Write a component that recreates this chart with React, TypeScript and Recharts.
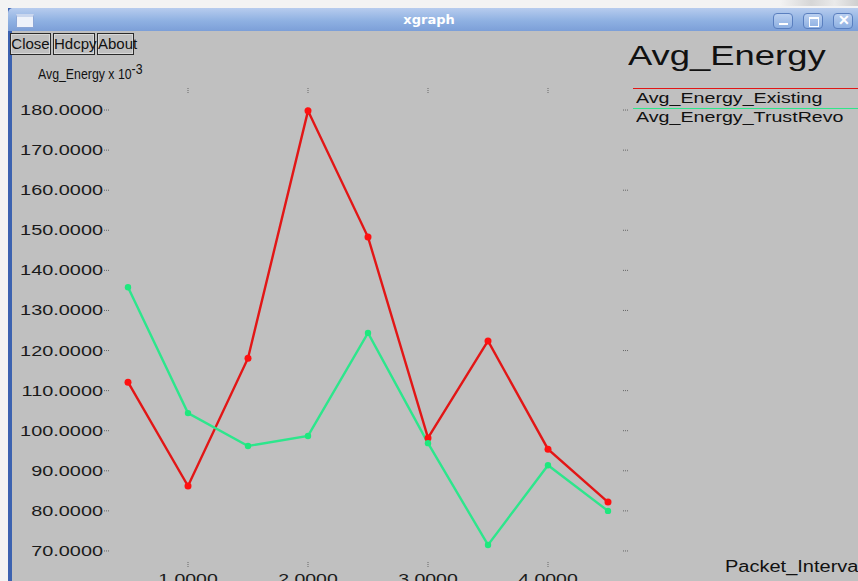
import React from 'react';
import { LineChart, Line, XAxis, YAxis } from 'recharts';

// packet interval (x) and energy x 10^-3 (y)
const xValues = [0.5, 1.0, 1.5, 2.0, 2.5, 3.0, 3.5, 4.0, 4.5];
const existing = [112.1, 86.2, 118.1, 179.8, 148.3, 98.2, 122.4, 95.4, 82.2];
const trustRevo = [135.8, 104.4, 96.2, 98.7, 124.4, 96.9, 71.5, 91.4, 80.0];
const xTicks = [1, 2, 3, 4];
const yTicks = [70, 80, 90, 100, 110, 120, 130, 140, 150, 160, 170, 180];

const data = xValues.map((x, i) => ({ x, existing: existing[i], trustRevo: trustRevo[i] }));

const RED = '#e21616';
const GREEN = '#2de68c';
const TICK = '#666';
const FONT = '"Liberation Sans", Arial, sans-serif';

const LeftTick = (props: any) => {
  const { x, y, payload } = props;
  return (
    <g>
      <text
        transform={`translate(${x - 7},${y + 5}) scale(1.42,1)`}
        textAnchor="end"
        fontSize={14}
        fontFamily={FONT}
        fill="#1a1a1a"
      >
        {payload.value.toFixed(4)}
      </text>
      <line x1={x - 6} x2={x} y1={y} y2={y} stroke={TICK} strokeDasharray="1 1" />
    </g>
  );
};

const RightTick = (props: any) => {
  const { x, y } = props;
  return <line x1={x - 3} x2={x + 3} y1={y} y2={y} stroke={TICK} strokeDasharray="1 1" />;
};

const TopTick = (props: any) => {
  const { x, y } = props;
  return <line x1={x} x2={x} y1={y - 2} y2={y + 4} stroke={TICK} strokeDasharray="1 1" />;
};

const BottomTick = (props: any) => {
  const { x, y, payload } = props;
  return (
    <g>
      <line x1={x} x2={x} y1={y - 4} y2={y + 1} stroke={TICK} strokeDasharray="1 1" />
      <text
        transform={`translate(${x},${y + 18}) scale(1.3,1)`}
        textAnchor="middle"
        fontSize={15}
        fontFamily={FONT}
        fill="#1a1a1a"
      >
        {payload.value.toFixed(4)}
      </text>
    </g>
  );
};

const btn: React.CSSProperties = {
  position: 'absolute',
  top: 33,
  height: 22,
  border: '1px solid #2a2a2a',
  boxShadow: 'inset 0 0 0 1px #d8d8d8',
  fontFamily: FONT,
  fontSize: 15,
  lineHeight: '20px',
  color: '#111',
  textAlign: 'center',
  boxSizing: 'border-box',
};

const stretched = (left: number, top: number, size: number, sx: number): React.CSSProperties => ({
  position: 'absolute',
  left,
  top,
  fontFamily: FONT,
  fontSize: size,
  color: '#111',
  whiteSpace: 'nowrap',
  transform: `scaleX(${sx})`,
  transformOrigin: 'left top',
  lineHeight: 1.2,
});

const ctrl = (left: number): React.CSSProperties => ({
  position: 'absolute',
  left,
  top: 13,
  width: 20,
  height: 16,
  borderRadius: 4,
  border: '1px solid #5a7fbf',
  background: 'linear-gradient(#b9cff0, #8eb0e2)',
  boxSizing: 'border-box',
});

export default function App() {
  return (
    <div style={{ position: 'fixed', left: 0, top: 0, width: 858, height: 581, overflow: 'hidden', background: '#f3f3f3' }}>
      {/* window chrome */}
      <div style={{ position: 'absolute', left: 8, top: 8, right: 0, bottom: 0, background: '#c0c0c0' }} />
      <div style={{ position: 'absolute', left: 8, top: 8, width: 4, bottom: 0, background: '#3c62b0' }} />
      <div
        style={{
          position: 'absolute',
          left: 8,
          top: 8,
          right: 0,
          height: 23,
          borderTopLeftRadius: 5,
          background: 'linear-gradient(#b7ccee, #8fb1e2 55%, #7c9fd8)',
        }}
      />
      <div style={{ position: 'absolute', left: 780, top: 0, width: 78, height: 6, background: 'linear-gradient(90deg, #f3f3f3, #d6d6d6 40%, #eaeaea 70%, #cfcfcf)' }} />
      <div style={{ position: 'absolute', left: 16, top: 14, width: 16, height: 10, background: '#eef2fa', border: '1px solid #8ca6d6', borderTop: '3px solid #c9d6ee' }} />
      <div
        style={{
          position: 'absolute',
          left: 0,
          width: 858,
          top: 12,
          textAlign: 'center',
          color: '#fff',
          fontFamily: '"DejaVu Sans", sans-serif',
          fontWeight: 'bold',
          fontSize: 13,
          lineHeight: '16px',
        }}
      >
        xgraph
      </div>
      <div style={ctrl(773)}>
        <div style={{ position: 'absolute', left: 5, top: 9, width: 9, height: 2, background: '#fff' }} />
      </div>
      <div style={ctrl(803)}>
        <div style={{ position: 'absolute', left: 5, top: 3, width: 8, height: 7, border: '1px solid #fff', borderTopWidth: 2 }} />
      </div>
      <div style={ctrl(833)}>
        <div style={{ position: 'absolute', left: 4, top: -2, color: '#fff', fontSize: 14, fontWeight: 'bold', fontFamily: FONT }}>✕</div>
      </div>

      <div style={{ ...btn, left: 10, width: 41 }}>Close</div>
      <div style={{ ...btn, left: 53, width: 42 }}>Hdcpy</div>
      <div style={{ ...btn, left: 97, width: 37 }}>About</div>

      <div style={stretched(38, 61, 14, 0.88)}>
        Avg_Energy x 10<sup style={{ fontSize: 14, verticalAlign: 5 }}>-3</sup>
      </div>
      <div style={stretched(628, 39, 28, 1.3)}>Avg_Energy</div>

      {/* legend */}
      <div style={{ position: 'absolute', left: 633, top: 88, width: 230, height: 1, background: RED }} />
      <div style={stretched(636, 89, 15, 1.31)}>Avg_Energy_Existing</div>
      <div style={{ position: 'absolute', left: 633, top: 108, width: 230, height: 1, background: GREEN }} />
      <div style={stretched(636, 108, 15, 1.31)}>Avg_Energy_TrustRevo</div>

      <div style={stretched(725, 557, 16, 1.25)}>Packet_Interval</div>

      <div style={{ position: 'absolute', left: 0, top: 0 }}>
        <LineChart width={858} height={581} data={data} margin={{ top: 80, right: 226, bottom: 0, left: 0 }}>
          <XAxis
            xAxisId="b"
            dataKey="x"
            type="number"
            domain={[0.35, 4.65]}
            ticks={xTicks}
            interval={0}
            height={15}
            tickSize={0}
            tickMargin={0}
            axisLine={false}
            tickLine={false}
            tick={<BottomTick />}
            allowDataOverflow
          />
          <XAxis
            xAxisId="t"
            orientation="top"
            dataKey="x"
            type="number"
            domain={[0.35, 4.65]}
            ticks={xTicks}
            interval={0}
            height={10}
            tickSize={0}
            tickMargin={0}
            axisLine={false}
            tickLine={false}
            tick={<TopTick />}
            allowDataOverflow
          />
          <YAxis
            yAxisId="l"
            type="number"
            domain={[66.25, 185]}
            ticks={yTicks}
            interval={0}
            width={110}
            tickSize={0}
            tickMargin={0}
            axisLine={false}
            tickLine={false}
            tick={<LeftTick />}
            allowDataOverflow
          />
          <YAxis
            yAxisId="r"
            orientation="right"
            type="number"
            domain={[66.25, 185]}
            ticks={yTicks}
            interval={0}
            width={6}
            tickSize={0}
            tickMargin={0}
            axisLine={false}
            tickLine={false}
            tick={<RightTick />}
            allowDataOverflow
          />
          <Line
            xAxisId="b"
            yAxisId="l"
            type="linear"
            dataKey="existing"
            stroke={RED}
            strokeWidth={2.4}
            dot={{ r: 3.5, fill: '#ff1010', stroke: '#ff1010', strokeWidth: 0 }}
            isAnimationActive={false}
          />
          <Line
            xAxisId="b"
            yAxisId="l"
            type="linear"
            dataKey="trustRevo"
            stroke={GREEN}
            strokeWidth={2.4}
            dot={{ r: 3.2, fill: '#1ee87e', stroke: '#1ee87e', strokeWidth: 0 }}
            isAnimationActive={false}
          />
        </LineChart>
      </div>
    </div>
  );
}
